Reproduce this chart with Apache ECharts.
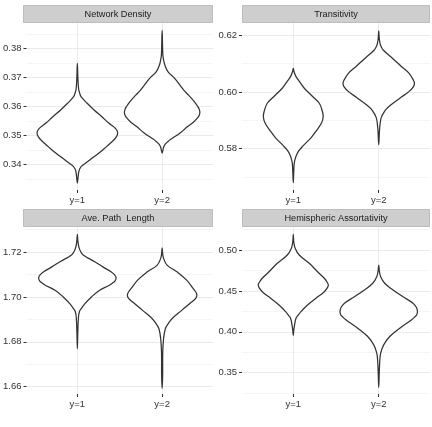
<!DOCTYPE html>
<html><head><meta charset="utf-8">
<script src="https://cdn.jsdelivr.net/npm/echarts@6/dist/echarts.min.js"></script>
<style>html,body{margin:0;padding:0;background:#fff}#c{width:432px;height:427px}</style>
</head><body><div id="c"></div>
<script>
// ---- data ----
const panelTitles = ['Network Density', 'Transitivity', 'Ave. Path  Length', 'Hemispheric Assortativity'];
const categories = ['y=1', 'y=2'];
const categoryPositions = [1, 2];

// violin profiles: [value, half-width in category units]
const nd_y1 = [[0.3748,0],[0.3700,0.006],[0.3660,0.015],[0.3645,0.028],[0.3633,0.046],[0.3611,0.116],[0.3588,0.197],[0.3565,0.289],[0.3543,0.370],[0.3530,0.430],[0.3520,0.462],[0.3510,0.475],[0.3500,0.468],[0.3490,0.446],[0.3478,0.405],[0.3463,0.347],[0.3440,0.255],[0.3417,0.150],[0.3405,0.095],[0.3395,0.050],[0.3385,0.027],[0.3373,0.015],[0.3350,0.006],[0.3337,0]];
const nd_y2 = [[0.3862,0],[0.3780,0.008],[0.3760,0.017],[0.3740,0.035],[0.3719,0.070],[0.3696,0.150],[0.3674,0.208],[0.3656,0.255],[0.3639,0.312],[0.3616,0.382],[0.3600,0.420],[0.3590,0.438],[0.3580,0.445],[0.3570,0.438],[0.3560,0.415],[0.3545,0.365],[0.3531,0.301],[0.3508,0.208],[0.3490,0.116],[0.3480,0.070],[0.3470,0.035],[0.3460,0.017],[0.3440,0]];
const tr_y1 = [[0.6083,0],[0.6070,0.010],[0.6054,0.032],[0.6035,0.075],[0.6013,0.129],[0.5984,0.226],[0.5960,0.304],[0.5937,0.335],[0.5913,0.350],[0.5890,0.330],[0.5861,0.265],[0.5838,0.207],[0.5808,0.109],[0.5790,0.060],[0.5773,0.032],[0.5750,0.012],[0.5720,0.006],[0.5680,0]];
const tr_y2 = [[0.6215,0],[0.6190,0.006],[0.6171,0.015],[0.6160,0.028],[0.6147,0.055],[0.6118,0.163],[0.6089,0.268],[0.6066,0.353],[0.6042,0.405],[0.6030,0.418],[0.6018,0.405],[0.6001,0.353],[0.5978,0.247],[0.5954,0.140],[0.5940,0.090],[0.5925,0.055],[0.5910,0.030],[0.5890,0.017],[0.5860,0.008],[0.5814,0]];
const apl_y1 = [[1.7279,0],[1.7250,0.006],[1.7224,0.017],[1.7205,0.035],[1.7187,0.069],[1.7157,0.205],[1.7134,0.301],[1.7112,0.397],[1.7098,0.440],[1.7085,0.457],[1.7072,0.445],[1.7062,0.415],[1.7052,0.378],[1.7030,0.263],[1.7000,0.166],[1.6970,0.089],[1.6950,0.050],[1.6933,0.023],[1.6903,0.012],[1.6850,0.006],[1.6769,0]];
const apl_y2 = [[1.7219,0],[1.7190,0.007],[1.7172,0.017],[1.7142,0.058],[1.7112,0.174],[1.7075,0.289],[1.7037,0.367],[1.7020,0.400],[1.7008,0.410],[1.6995,0.398],[1.6977,0.347],[1.6940,0.231],[1.6903,0.116],[1.6880,0.070],[1.6858,0.038],[1.6814,0.017],[1.6750,0.007],[1.6650,0.006],[1.6592,0]];
const ha_y1 = [[0.5191,0],[0.5100,0.006],[0.5020,0.023],[0.4939,0.070],[0.4838,0.187],[0.4735,0.284],[0.4655,0.363],[0.4610,0.395],[0.4575,0.410],[0.4540,0.400],[0.4491,0.363],[0.4411,0.265],[0.4329,0.167],[0.4248,0.090],[0.4200,0.055],[0.4167,0.032],[0.4085,0.015],[0.4020,0.006],[0.3955,0]];
const ha_y2 = [[0.4817,0],[0.4740,0.008],[0.4675,0.023],[0.4594,0.070],[0.4512,0.167],[0.4430,0.284],[0.4350,0.401],[0.4300,0.440],[0.4250,0.453],[0.4210,0.445],[0.4180,0.420],[0.4146,0.382],[0.4045,0.246],[0.3943,0.129],[0.3841,0.058],[0.3740,0.023],[0.3638,0.012],[0.3500,0.006],[0.3321,0]];

// y axis ranges and ticks
const yRanges = [[0.3313, 0.3887], [0.5654, 0.6243], [1.6567, 1.7312], [0.3240, 0.5282]];
const majorTicks = [[0.34,0.35,0.36,0.37,0.38], [0.58,0.60,0.62], [1.66,1.68,1.70,1.72], [0.35,0.40,0.45,0.50]];
const minorTicks = [[0.335,0.345,0.355,0.365,0.375,0.385], [0.57,0.59,0.61], [1.67,1.69,1.71,1.73], [0.325,0.375,0.425,0.475,0.525]];
const xRange = [0.4, 2.6];

// ---- layout ----
const grids = [
  {left: 23, top: 23, width: 190, height: 167},
  {left: 242, top: 23, width: 188, height: 167},
  {left: 23, top: 227, width: 190, height: 167},
  {left: 242, top: 227, width: 188, height: 167}
];
const stripH = 18;
const FONT = '"Liberation Sans", Arial, Helvetica, sans-serif';
const AXIS_FS = 9.5, STRIP_FS = 9.2;
const profiles = [[nd_y1, nd_y2], [tr_y1, tr_y2], [apl_y1, apl_y2], [ha_y1, ha_y2]];

const xAxes = [], yAxes = [], series = [], graphics = [];
grids.forEach((g, i) => {
  xAxes.push({
    gridIndex: i, type: 'value', min: xRange[0], max: xRange[1],
    axisLine: {show: false},
    axisTick: {show: true, length: 3, customValues: categoryPositions, lineStyle: {color: '#333', width: 1}},
    axisLabel: {customValues: categoryPositions, formatter: v => categories[Math.round(v) - 1],
      margin: 5, fontSize: AXIS_FS, fontFamily: FONT, color: '#333'},
    splitLine: {show: true, lineStyle: {color: '#EBEBEB', width: 1}}
  });
  yAxes.push({
    gridIndex: i, type: 'value', min: yRanges[i][0], max: yRanges[i][1], position: 'left',
    axisLine: {show: false},
    axisTick: {show: true, length: 3, customValues: majorTicks[i], lineStyle: {color: '#333', width: 1}},
    axisLabel: {customValues: majorTicks[i], formatter: v => v.toFixed(2),
      margin: 5, fontSize: AXIS_FS, fontFamily: FONT, color: '#333'},
    splitLine: {show: true, lineStyle: {color: '#EBEBEB', width: 1}}
  });
  yAxes.push({
    gridIndex: i, type: 'value', min: yRanges[i][0], max: yRanges[i][1], position: 'left',
    axisLine: {show: false},
    axisTick: {show: false, customValues: minorTicks[i]},
    axisLabel: {show: false},
    splitLine: {show: true, lineStyle: {color: '#F5F5F5', width: 1}}
  });
  const profs = profiles[i];
  series.push({
    type: 'custom', xAxisIndex: i, yAxisIndex: i * 2, silent: true, z: 5,
    data: profs.map((p, k) => [categoryPositions[k], p[0][0]]),
    renderItem: (params, api) => {
      const prof = profs[params.dataIndex];
      const c = api.value(0);
      const pts = [];
      for (let j = 0; j < prof.length; j++) pts.push(api.coord([c - prof[j][1], prof[j][0]]));
      for (let j = prof.length - 2; j >= 1; j--) pts.push(api.coord([c + prof[j][1], prof[j][0]]));
      return {type: 'polygon', shape: {points: pts, smooth: 0.4},
        style: {fill: '#fff', stroke: '#333', lineWidth: 1.25}};
    }
  });
  graphics.push({
    type: 'rect', z: 10,
    shape: {x: g.left + 0.5, y: g.top - stripH + 0.5, width: g.width - 1, height: stripH - 1},
    style: {fill: '#CECECE', stroke: '#BDBDBD', lineWidth: 1}
  });
  graphics.push({
    type: 'text', z: 11, x: g.left + g.width / 2, y: g.top - stripH / 2,
    style: {text: panelTitles[i], align: 'center', verticalAlign: 'middle',
      fontSize: STRIP_FS, fontFamily: FONT, fill: '#1A1A1A'}
  });
});

const chart = echarts.init(document.getElementById('c'), null, {renderer: 'canvas'});
chart.setOption({
  backgroundColor: '#fff',
  animation: false,
  grid: grids.map(g => Object.assign({containLabel: false}, g)),
  xAxis: xAxes,
  yAxis: yAxes,
  series: series,
  graphic: graphics
});
</script>
</body></html>
